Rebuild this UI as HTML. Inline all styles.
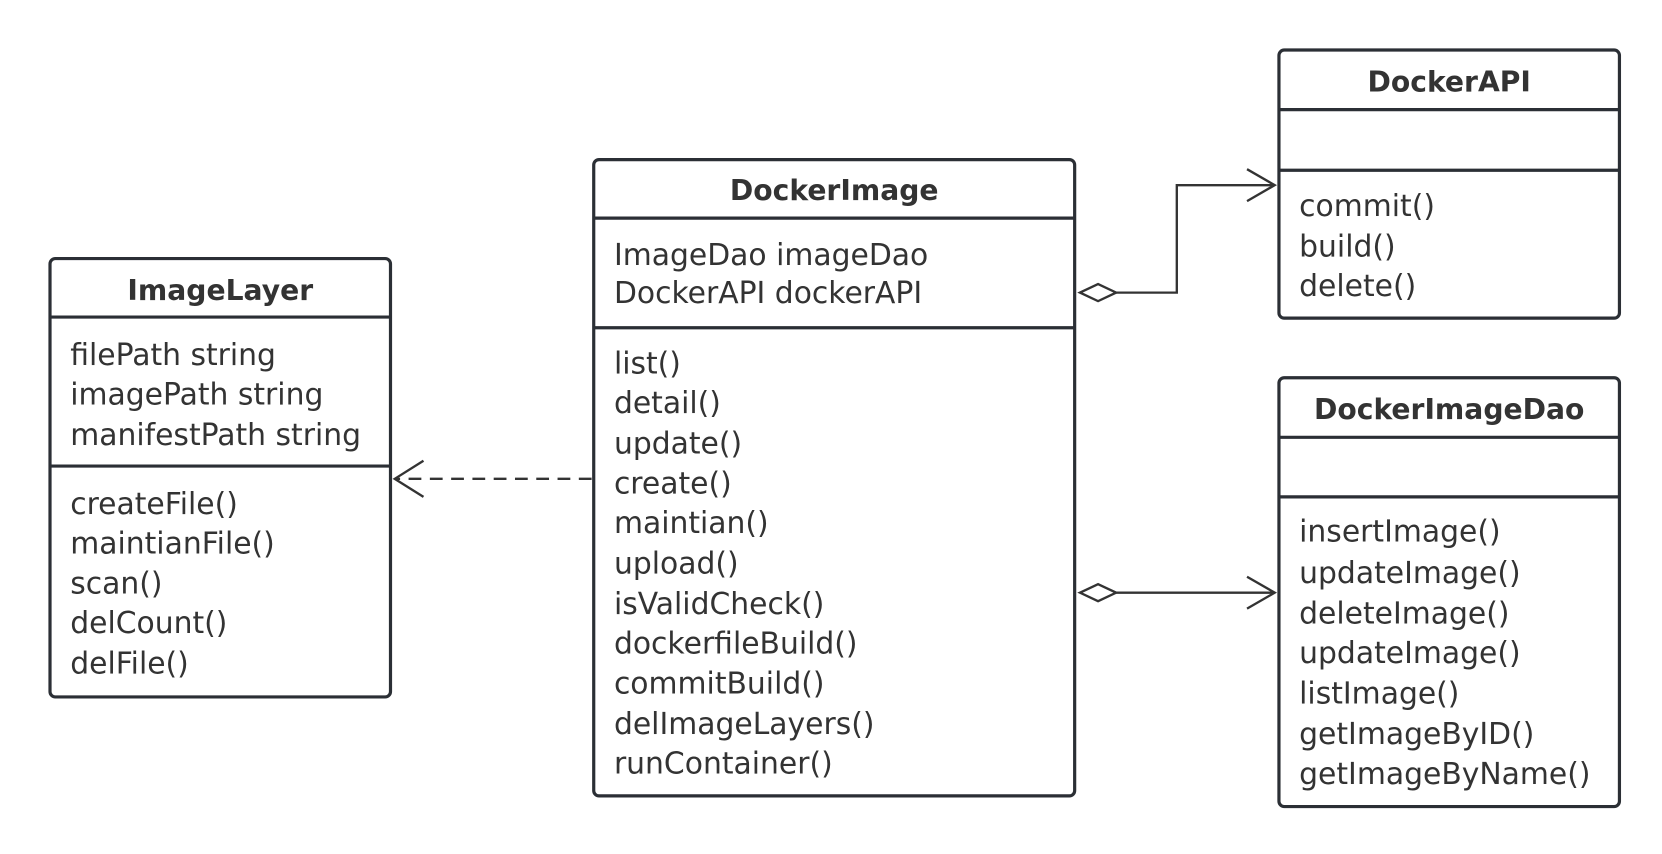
<!DOCTYPE html>
<html><head><meta charset="utf-8"><style>
html,body{margin:0;padding:0;background:#fff;}
svg{display:block;}
text{font-family:"DejaVu Sans","Liberation Sans",sans-serif;fill:#333;}
.t{font-weight:bold;font-size:26.5px;text-anchor:middle;}
.m{font-size:28px;}
.b{fill:#fff;stroke:#2b2f35;stroke-width:3;}
.l{stroke:#2b2f35;stroke-width:3;}
.c{stroke:#333;stroke-width:2.2;fill:none;}
</style></head><body>
<svg width="1662" height="854" viewBox="0 0 1562 802.6" xmlns="http://www.w3.org/2000/svg">
<!-- ImageLayer -->
<rect class="b" x="47" y="243" width="320" height="412" rx="5"/>
<line class="l" x1="47" y1="298" x2="367" y2="298"/>
<line class="l" x1="47" y1="438" x2="367" y2="438"/>
<text class="t" x="207" y="282">ImageLayer</text>
<text class="m" x="66" y="343">filePath string</text>
<text class="m" x="66" y="380">imagePath string</text>
<text class="m" x="66" y="418">manifestPath string</text>
<text class="m" x="66" y="483">createFile()</text>
<text class="m" x="66" y="520">maintianFile()</text>
<text class="m" x="66" y="558">scan()</text>
<text class="m" x="66" y="595">delCount()</text>
<text class="m" x="66" y="633">delFile()</text>
<!-- DockerImage -->
<rect class="b" x="558" y="150" width="452" height="598" rx="5"/>
<line class="l" x1="558" y1="205" x2="1010" y2="205"/>
<line class="l" x1="558" y1="308" x2="1010" y2="308"/>
<text class="t" x="784" y="188">DockerImage</text>
<text class="m" x="577" y="249">ImageDao imageDao</text>
<text class="m" x="577" y="285">DockerAPI dockerAPI</text>
<text class="m" x="577" y="351">list()</text>
<text class="m" x="577" y="388">detail()</text>
<text class="m" x="577" y="426">update()</text>
<text class="m" x="577" y="464">create()</text>
<text class="m" x="577" y="501">maintian()</text>
<text class="m" x="577" y="539">upload()</text>
<text class="m" x="577" y="577">isValidCheck()</text>
<text class="m" x="577" y="614">dockerfileBuild()</text>
<text class="m" x="577" y="652">commitBuild()</text>
<text class="m" x="577" y="690">delImageLayers()</text>
<text class="m" x="577" y="727">runContainer()</text>
<!-- DockerAPI -->
<rect class="b" x="1202" y="47" width="320" height="252" rx="5"/>
<line class="l" x1="1202" y1="103" x2="1522" y2="103"/>
<line class="l" x1="1202" y1="160" x2="1522" y2="160"/>
<text class="t" x="1362" y="86">DockerAPI</text>
<text class="m" x="1221" y="203">commit()</text>
<text class="m" x="1221" y="241">build()</text>
<text class="m" x="1221" y="278">delete()</text>
<!-- DockerImageDao -->
<rect class="b" x="1202" y="355" width="320" height="403" rx="5"/>
<line class="l" x1="1202" y1="411" x2="1522" y2="411"/>
<line class="l" x1="1202" y1="467" x2="1522" y2="467"/>
<text class="t" x="1362" y="394">DockerImageDao</text>
<text class="m" x="1221" y="509">insertImage()</text>
<text class="m" x="1221" y="548">updateImage()</text>
<text class="m" x="1221" y="586">deleteImage()</text>
<text class="m" x="1221" y="623">updateImage()</text>
<text class="m" x="1221" y="661">listImage()</text>
<text class="m" x="1221" y="699">getImageByID()</text>
<text class="m" x="1221" y="737">getImageByName()</text>
<!-- dependency -->
<line class="c" x1="556" y1="450" x2="372" y2="450" stroke-dasharray="12,8"/>
<polyline class="c" points="398,433 371,450 398,467"/>
<!-- aggregation to DockerAPI -->
<polygon class="c" points="1015,275 1032,267 1049,275 1032,283"/>
<polyline class="c" points="1049,275 1106,275 1106,174 1198,174"/>
<polyline class="c" points="1172,159 1198,174 1172,189"/>
<!-- aggregation to DockerImageDao -->
<polygon class="c" points="1015,557 1032,549 1049,557 1032,565"/>
<line class="c" x1="1049" y1="557" x2="1198" y2="557"/>
<polyline class="c" points="1172,542 1198,557 1172,572"/>
</svg>
</body></html>
